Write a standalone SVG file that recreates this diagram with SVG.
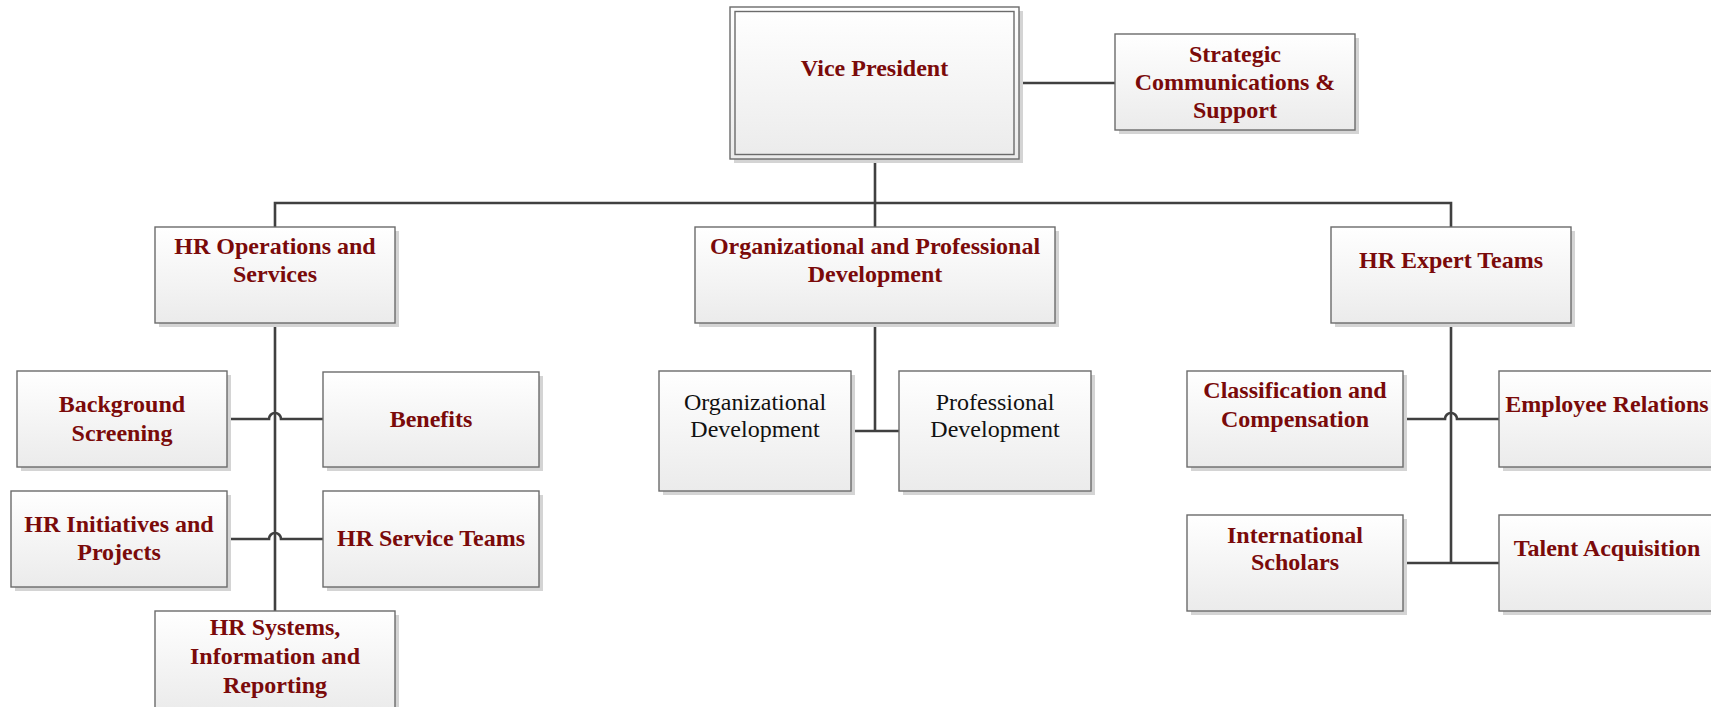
<svg xmlns="http://www.w3.org/2000/svg" width="1711" height="707" viewBox="0 0 1711 707">
<defs>
<linearGradient id="g" x1="0" y1="0" x2="0" y2="1">
<stop offset="0" stop-color="#ffffff"/>
<stop offset="1" stop-color="#ebebeb"/>
</linearGradient>
</defs>
<style>
.sh{fill:#d4d4d4}
.bx{fill:url(#g);stroke:#6b6b6b;stroke-width:1.4}
.bi{fill:none;stroke:#6b6b6b;stroke-width:1.4}
.t{font-family:"Liberation Serif",serif;font-weight:bold;font-size:24px;fill:#7a0a0a;text-anchor:middle}
.tr{font-family:"Liberation Serif",serif;font-size:24px;fill:#111;text-anchor:middle}
.c{fill:none;stroke:#404040;stroke-width:2.6}
</style>
<rect width="1711" height="707" fill="#ffffff"/>
<g id="connectors">
<path class="c" d="M1019 83 H1115"/>
<path class="c" d="M875 159 V227"/>
<path class="c" d="M275 227 V203 H1451 V227"/>
<path class="c" d="M275 323 V611"/>
<path class="c" d="M227 419 H269 A6 6 0 0 1 281 419 H323"/>
<path class="c" d="M227 539 H269 A6 6 0 0 1 281 539 H323"/>
<path class="c" d="M875 323 V431"/>
<path class="c" d="M851 431 H899"/>
<path class="c" d="M1451 323 V563"/>
<path class="c" d="M1403 419 H1445 A6 6 0 0 1 1457 419 H1499"/>
<path class="c" d="M1403 563 H1499"/>
</g>
<g id="vp">
<rect class="sh" x="734" y="11" width="289" height="152"/>
<rect class="bx" x="730" y="7" width="289" height="152"/>
<rect class="bi" x="735" y="11.5" width="279" height="143"/>
<text class="t" x="874.5" y="76">Vice President</text>
</g>
<g id="scs">
<rect class="sh" x="1119" y="38" width="240" height="96"/>
<rect class="bx" x="1115" y="34" width="240" height="96"/>
<text class="t" x="1235" y="62">Strategic</text>
<text class="t" x="1235" y="90">Communications &amp;</text>
<text class="t" x="1235" y="118">Support</text>
</g>
<g id="hrops">
<rect class="sh" x="159" y="231" width="240" height="96"/>
<rect class="bx" x="155" y="227" width="240" height="96"/>
<text class="t" x="275" y="254">HR Operations and</text>
<text class="t" x="275" y="282">Services</text>
</g>
<g id="opd">
<rect class="sh" x="699" y="231" width="360" height="96"/>
<rect class="bx" x="695" y="227" width="360" height="96"/>
<text class="t" x="875" y="254">Organizational and Professional</text>
<text class="t" x="875" y="282">Development</text>
</g>
<g id="hret">
<rect class="sh" x="1335" y="231" width="240" height="96"/>
<rect class="bx" x="1331" y="227" width="240" height="96"/>
<text class="t" x="1451" y="268">HR Expert Teams</text>
</g>
<g id="bg">
<rect class="sh" x="21" y="375" width="210" height="96"/>
<rect class="bx" x="17" y="371" width="210" height="96"/>
<text class="t" x="122" y="412">Background</text>
<text class="t" x="122" y="441">Screening</text>
</g>
<g id="benefits">
<rect class="sh" x="327" y="376" width="216" height="95"/>
<rect class="bx" x="323" y="372" width="216" height="95"/>
<text class="t" x="431" y="427">Benefits</text>
</g>
<g id="hrinit">
<rect class="sh" x="15" y="495" width="216" height="96"/>
<rect class="bx" x="11" y="491" width="216" height="96"/>
<text class="t" x="119" y="532">HR Initiatives and</text>
<text class="t" x="119" y="560">Projects</text>
</g>
<g id="hrst">
<rect class="sh" x="327" y="495" width="216" height="96"/>
<rect class="bx" x="323" y="491" width="216" height="96"/>
<text class="t" x="431" y="546">HR Service Teams</text>
</g>
<g id="hrsys">
<rect class="sh" x="159" y="615" width="240" height="100"/>
<rect class="bx" x="155" y="611" width="240" height="100"/>
<text class="t" x="275" y="635">HR Systems,</text>
<text class="t" x="275" y="664">Information and</text>
<text class="t" x="275" y="693">Reporting</text>
</g>
<g id="od">
<rect class="sh" x="663" y="375" width="192" height="120"/>
<rect class="bx" x="659" y="371" width="192" height="120"/>
<text class="tr" x="755" y="410">Organizational</text>
<text class="tr" x="755" y="437">Development</text>
</g>
<g id="pd">
<rect class="sh" x="903" y="375" width="192" height="120"/>
<rect class="bx" x="899" y="371" width="192" height="120"/>
<text class="tr" x="995" y="410">Professional</text>
<text class="tr" x="995" y="437">Development</text>
</g>
<g id="cc">
<rect class="sh" x="1191" y="375" width="216" height="96"/>
<rect class="bx" x="1187" y="371" width="216" height="96"/>
<text class="t" x="1295" y="398">Classification and</text>
<text class="t" x="1295" y="427">Compensation</text>
</g>
<g id="er">
<rect class="sh" x="1503" y="375" width="216" height="96"/>
<rect class="bx" x="1499" y="371" width="216" height="96"/>
<text class="t" x="1607" y="412">Employee Relations</text>
</g>
<g id="is">
<rect class="sh" x="1191" y="519" width="216" height="96"/>
<rect class="bx" x="1187" y="515" width="216" height="96"/>
<text class="t" x="1295" y="543">International</text>
<text class="t" x="1295" y="570">Scholars</text>
</g>
<g id="ta">
<rect class="sh" x="1503" y="519" width="216" height="96"/>
<rect class="bx" x="1499" y="515" width="216" height="96"/>
<text class="t" x="1607" y="556">Talent Acquisition</text>
</g>
</svg>
